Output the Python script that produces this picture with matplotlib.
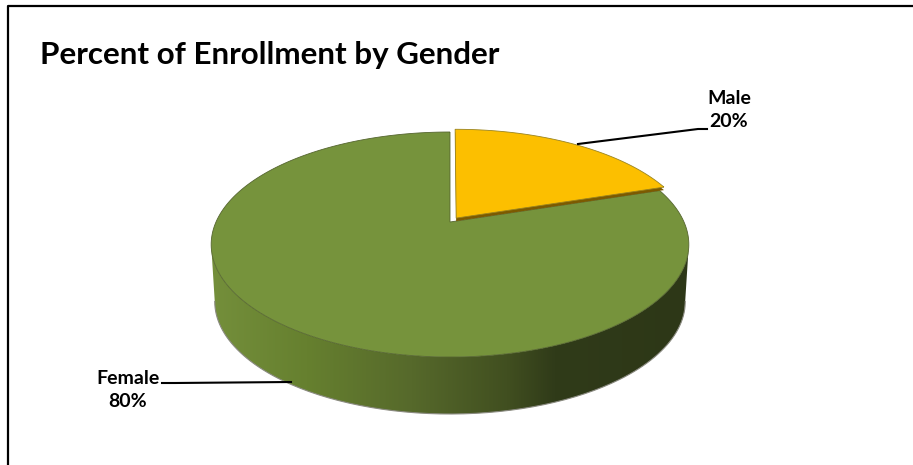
import matplotlib
matplotlib.use('Agg')
import matplotlib.pyplot as plt
from matplotlib.transforms import Transform, Affine2D
from matplotlib.path import Path
from matplotlib.patches import PathPatch
from matplotlib.colors import LinearSegmentedColormap
import numpy as np

labels = ['Male', 'Female']
values = [20, 80]
slice_colors = ['#fcbf00', '#76933c']
title = 'Percent of Enrollment by Gender'

plt.rcParams['font.family'] = ['Lato', 'DejaVu Sans']

# pie centre and tilt, in pixels of the picture
cx, cy = 450, 222
rx, ry = 234, 108
tilt = 0.2
depth = 57


class Tilt(Transform):
    # turns the flat unit pie into a disc seen in perspective
    input_dims = 2
    output_dims = 2
    has_inverse = False

    def __init__(self, dy=0, shrink=1.0):
        super().__init__()
        self.dy = dy
        self.shrink = shrink

    def transform_non_affine(self, values):
        x = values[:, 0]
        y = values[:, 1]
        d = 1 + tilt * y
        return np.column_stack([cx + self.shrink * rx * x / d, cy + self.dy - ry * y / d])

    def transform_path_non_affine(self, path):
        # flatten the arcs first, scaled up so the polygon stays fine
        polys = path.to_polygons(Affine2D().scale(2000), closed_only=False)
        return Path(self.transform_non_affine(polys[0] / 2000))


fig = plt.figure(figsize=(9.13, 4.65), dpi=100)
ax = fig.add_axes([0, 0, 1, 1])


def draw_pie(explode, colors, dy=0, edge='none', z=3):
    wedges, _ = ax.pie(values, explode=explode, colors=colors, startangle=90,
                       counterclock=False, radius=1,
                       wedgeprops=dict(edgecolor=edge, linewidth=0.6))
    for w in wedges:
        w.set_transform(Tilt(dy=dy) + ax.transData)
        w.set_zorder(z)
    return wedges


# side wall of the disc, from the two leftmost / rightmost points of the rim
t = np.linspace(np.arcsin(tilt) + np.pi, 2 * np.pi - np.arcsin(tilt), 200)
rim = np.column_stack([np.cos(t), np.sin(t)])
upper = Tilt().transform_non_affine(rim)
lower = Tilt(dy=depth, shrink=0.985).transform_non_affine(rim)
wall_path = Path(np.vstack([upper, lower[::-1], upper[:1]]))

wall_cmap = LinearSegmentedColormap.from_list('wall', [
    (0.0, '#748f3b'), (0.2, '#66802f'), (0.42, '#56692b'),
    (0.62, '#414f20'), (0.72, '#303b19'), (1.0, '#2d3717')])

draw_pie([0, 0], ['none', slice_colors[1]], edge='#55652f', z=3)[0].set_visible(False)
draw_pie([0.045, 0], ['#7c5a00', 'none'], dy=3, z=3.5)[1].set_visible(False)
draw_pie([0.045, 0], [slice_colors[0], 'none'], edge='#9a8420', z=4)[1].set_visible(False)

img = ax.imshow(np.linspace(0, 1, 256)[None, :], cmap=wall_cmap, aspect='auto',
                extent=[cx - rx - 5, cx + rx + 5, cy + 200, cy], zorder=2)
wall = PathPatch(wall_path, facecolor='none', edgecolor='none', transform=ax.transData)
ax.add_patch(wall)
img.set_clip_path(wall)
ax.plot(lower[:, 0], lower[:, 1], color='#8a8a80', lw=0.8, zorder=2.5)

ax.set_aspect('auto')
ax.set_xlim(0, 913)
ax.set_ylim(465, 0)
ax.axis('off')

# chart frame, the right and bottom sides fall outside the picture
ax.plot([8, 8, 930], [470, 6, 6], color='black', lw=1.6, zorder=1, clip_on=False)

ax.text(40, 55, title, fontsize=22.6, fontweight='bold', color='black', va='center', ha='left')

# leader lines and labels
ax.plot([578, 698, 707], [144, 129, 129], color='black', lw=1.5, zorder=5)
ax.plot([162, 175, 291], [383, 383, 382], color='black', lw=1.5, zorder=5)
ax.text(729, 110, f'{labels[0]}\n{values[0]}%', fontsize=14, fontweight='bold', ha='center',
        va='center', linespacing=1.45)
ax.text(128, 390, f'{labels[1]}\n{values[1]}%', fontsize=14, fontweight='bold', ha='center',
        va='center', linespacing=1.45)

fig.savefig('out.png', dpi=100)
